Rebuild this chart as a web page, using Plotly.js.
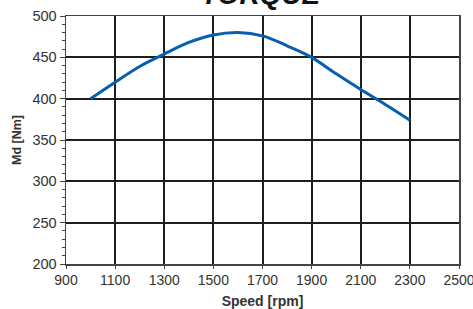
<!DOCTYPE html>
<html><head><meta charset="utf-8">
<script src="https://cdn.plot.ly/plotly-3.0.1.min.js"></script>
<style>html,body{margin:0;padding:0;background:#fff}#c{width:473px;height:309px}</style>
</head><body><div id="c"></div>
<script>
const speed = [1000, 1100, 1200, 1300, 1400, 1500, 1600, 1700, 1800, 1900, 2000, 2100, 2200, 2300];
const torque = [400, 420, 439, 454, 468, 477, 480, 476, 464, 450, 430, 411, 393, 374];
const chartTitle = 'TORQUE';
const xTitle = 'Speed [rpm]';
const yTitle = 'Md [Nm]';

const font = 'Liberation Sans, Arial, sans-serif';
Plotly.newPlot('c', [{
  x: speed, y: torque, type: 'scatter', mode: 'lines',
  line: {color: '#065fb0', width: 3, shape: 'spline', smoothing: 1},
  hoverinfo: 'skip'
}], {
  width: 473, height: 309,
  margin: {l: 66, r: 14, t: 16, b: 45},
  paper_bgcolor: '#fff', plot_bgcolor: '#fff',
  showlegend: false,
  font: {family: font, color: '#333', size: 14},
  annotations: [{
    text: '<b><i>' + chartTitle + '</i></b>', font: {family: font, size: 28, color: '#111'},
    xref: 'paper', yref: 'paper', x: 0.497, y: 1, xanchor: 'center', yanchor: 'bottom',
    yshift: 4, showarrow: false
  }],
  xaxis: {
    range: [900, 2500], dtick: 200, tick0: 900, fixedrange: true,
    showgrid: true, gridcolor: '#1e1e1e', gridwidth: 2,
    showline: true, linecolor: '#444', linewidth: 1.5, mirror: true,
    ticks: 'outside', ticklen: 3, tickcolor: '#444',
    tickfont: {family: font, size: 14, color: '#333'},
    ticklabeloverflow: 'allow',
    zeroline: false,
    title: {text: '<b>' + xTitle + '</b>', font: {family: font, size: 14, color: '#333'}, standoff: 9}
  },
  yaxis: {
    range: [200, 500], dtick: 50, fixedrange: true,
    showgrid: true, gridcolor: '#1e1e1e', gridwidth: 2,
    showline: true, linecolor: '#444', linewidth: 1.5, mirror: true,
    ticks: 'outside', ticklen: 5, tickcolor: '#444',
    minor: {dtick: 10, ticks: 'outside', ticklen: 3, tickcolor: '#444', showgrid: false},
    tickfont: {family: font, size: 14.5, color: '#333'},
    ticklabeloverflow: 'allow',
    zeroline: false,
    title: {text: '<b>' + yTitle + '</b>', font: {family: font, size: 12.5, color: '#333'}, standoff: 8}
  }
}, {displayModeBar: false, staticPlot: true});
</script></body></html>
